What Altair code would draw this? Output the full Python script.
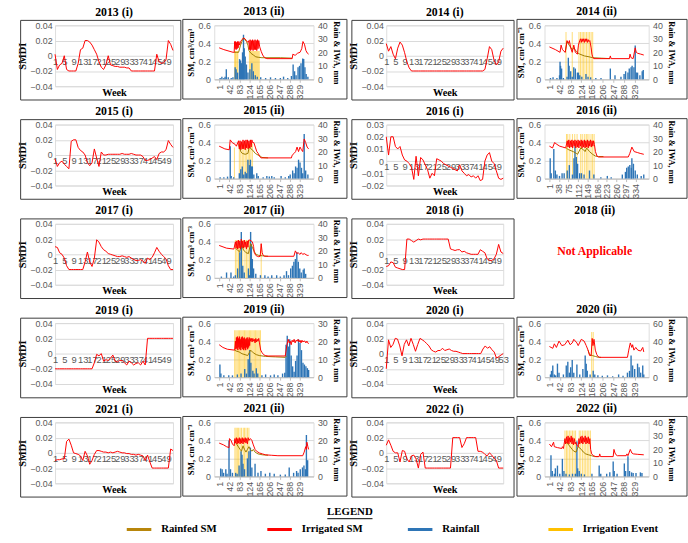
import altair as alt
import pandas as pd

SERIF = "Liberation Serif"
SANS = "Liberation Sans"
GRID = "#D9D9D9"
LABEL = "#595959"
FRAME = "#3a3a3a"

# ---------------- weekly SMDI series (i) ----------------
SMDI_2013 = [0.002, -0.018, -0.012, -0.010, 0.000, -0.018, -0.020, -0.020, -0.020, -0.020,
             -0.010, 0.008, 0.010, 0.020, 0.020, 0.018, 0.014, 0.008, 0.002, -0.008,
             -0.015, -0.018, -0.012, 0.000, -0.012, -0.013, -0.014, -0.014, -0.015, -0.015,
             -0.015, -0.016, -0.016, -0.020, -0.020, -0.020, -0.020, -0.020, -0.020, -0.020,
             -0.020, -0.020, -0.020, -0.020, 0.002, -0.008, -0.010, -0.009, -0.005, 0.020,
             0.015, 0.007]
SMDI_2014 = [0.016, 0.006, 0.012, 0.002, -0.004, 0.010, 0.018, 0.014, 0.004, -0.008,
             -0.016, -0.020, -0.020, -0.020, -0.020, -0.020, -0.020, -0.020, -0.020, -0.020,
             -0.020, -0.020, -0.020, -0.020, -0.020, -0.020, -0.020, -0.020, -0.020, -0.020,
             -0.020, -0.020, -0.020, -0.020, -0.020, -0.020, -0.020, -0.020, -0.020, -0.020,
             -0.020, -0.020, -0.020, -0.018, -0.004, 0.012, 0.008, -0.006, -0.012, -0.008,
             0.006, 0.010]
SMDI_2015 = [-0.005, -0.015, -0.010, -0.008, -0.012, -0.015, -0.018, 0.018, 0.020, 0.020,
             0.010, 0.006, 0.004, 0.000, -0.010, -0.014, -0.010, 0.008, -0.004, -0.015,
             0.004, 0.000, 0.000, 0.001, 0.001, 0.001, 0.001, 0.001, 0.001, 0.002,
             0.001, 0.001, 0.001, 0.002, 0.001, 0.000, 0.000, 0.000, -0.002, -0.007,
             -0.007, -0.006, -0.004, -0.002, -0.006, 0.002, 0.004, 0.004, 0.007, 0.019,
             0.014, 0.010]
SMDI_2016 = [0.020, 0.005, 0.020, 0.020, 0.012, 0.010, 0.012, 0.005, 0.001, 0.000,
             -0.002, -0.005, -0.015, 0.004, -0.012, 0.003, 0.001, -0.003, -0.007, -0.014,
             -0.010, -0.012, 0.002, 0.001, 0.000, -0.002, -0.003, -0.004, -0.005, -0.006,
             -0.007, -0.008, -0.003, -0.008, -0.010, -0.012, -0.011, -0.013, -0.012, -0.014,
             -0.012, -0.016, -0.015, 0.000, 0.005, 0.007, 0.000, -0.002, -0.008, -0.014,
             -0.015, -0.014]
SMDI_2017 = [0.010, 0.009, 0.002, 0.000, -0.005, -0.015, -0.020, -0.020, -0.020, -0.020,
             -0.020, -0.020, -0.020, -0.010, 0.003, -0.010, -0.016, -0.005, 0.019, 0.016,
             0.010, 0.006, 0.004, 0.001, 0.000, -0.001, -0.002, -0.003, -0.003, -0.002,
             -0.003, -0.004, -0.003, -0.005, -0.007, -0.008, -0.008, -0.007, -0.009, -0.012,
             -0.005, -0.007, -0.004, 0.002, 0.009, 0.004, 0.000, -0.003, -0.006, -0.015,
             -0.020, -0.020]
SMDI_2018 = [-0.016, -0.015, -0.010, -0.011, -0.017, -0.018, -0.019, -0.020, -0.020, 0.020,
             0.020, 0.018, 0.016, 0.018, 0.020, 0.019, 0.020, 0.020, 0.020, 0.020,
             0.020, 0.020, 0.020, 0.020, 0.020, 0.020, 0.020, 0.020, 0.007, 0.006,
             0.005, 0.006, 0.006, 0.003, 0.004, 0.002, 0.001, 0.000, 0.000, 0.000,
             0.000, 0.006, 0.004, 0.002, -0.006, -0.008, -0.008, -0.006, 0.000, 0.013,
             0.003, 0.001]
SMDI_2019 = [-0.020, -0.020, -0.020, -0.020, -0.020, -0.020, -0.020, -0.020, -0.020, -0.020,
             -0.020, -0.020, -0.020, -0.020, -0.020, -0.020, -0.020, -0.012, -0.001, -0.003,
             0.000, -0.010, -0.008, -0.009, -0.006, -0.002, -0.010, -0.011, -0.009, -0.009,
             -0.012, -0.015, -0.010, -0.012, -0.015, -0.013, -0.012, -0.015, -0.010, -0.015,
             0.020, 0.020, 0.020, 0.020, 0.020, 0.020, 0.020, 0.020, 0.020, 0.020,
             0.020, 0.020]
SMDI_2020 = [-0.020, 0.018, 0.008, 0.012, 0.020, 0.019, 0.010, -0.003, 0.012, 0.018,
             0.010, 0.020, 0.012, 0.003, 0.012, 0.020, 0.018, 0.016, 0.013, 0.010,
             0.005, 0.003, 0.002, 0.004, 0.004, 0.007, 0.004, 0.005, 0.006, 0.004,
             0.003, 0.003, 0.002, 0.001, 0.000, 0.000, 0.000, 0.000, 0.000, 0.000,
             0.000, 0.000, 0.000, 0.006, 0.010, 0.007, 0.009, 0.005, 0.002, -0.006,
             -0.004, -0.002, 0.000]
SMDI_2021 = [-0.010, -0.009, -0.009, -0.008, -0.008, 0.015, 0.018, 0.010, 0.000, -0.001,
             -0.002, -0.004, -0.010, 0.002, -0.004, -0.015, -0.010, -0.002, 0.003, 0.003,
             0.002, 0.001, 0.001, 0.000, 0.001, 0.000, 0.001, 0.002, 0.001, 0.000,
             0.000, -0.001, -0.001, -0.002, -0.002, -0.003, -0.002, -0.003, -0.004, -0.010,
             -0.003, -0.012, -0.020, -0.020, -0.020, -0.020, -0.020, -0.020, -0.020, -0.020,
             0.005, 0.003]
SMDI_2022 = [0.010, 0.017, 0.010, 0.002, 0.000, 0.000, -0.012, 0.003, 0.002, -0.008,
             -0.012, -0.004, -0.003, -0.008, -0.020, -0.002, 0.001, -0.020, -0.020, -0.020,
             -0.020, -0.020, -0.020, -0.020, -0.020, -0.020, -0.020, -0.020, -0.020, 0.020,
             0.020, 0.020, 0.020, 0.007, 0.012, 0.020, 0.020, 0.020, 0.020, 0.020,
             0.002, 0.002, 0.001, -0.002, -0.004, 0.000, -0.003, -0.007, -0.010, -0.020,
             -0.020, -0.020]

SMDI_TICKS = [-0.04, -0.02, 0, 0.02, 0.04]
SMDI_TICKS_2016 = [-0.02, -0.01, 0, 0.01, 0.02, 0.03]

# ---------------- daily soil moisture, rainfall and irrigation (ii) ----------------
DAY_TICKS = [1, 42, 83, 124, 165, 206, 247, 288, 329]
DAY_TICKS_2016 = [1, 38, 75, 112, 149, 186, 223, 260, 297, 334]
SM_TICKS = [0, 0.2, 0.4, 0.6]

RED_2013 = [(1, .35), (20, .33), (45, .31), (58, .30), (62, .30), (64, .42), (66, .34), (68, .42), (70, .33),
            (72, .41), (74, .34), (76, .42), (78, .35), (81, .42), (84, .38), (88, .42), (94, .44), (100, .46),
            (106, .45), (112, .43), (118, .41), (122, .43), (124, .33), (127, .44), (129, .32), (132, .43),
            (134, .33), (137, .44), (139, .32), (142, .43), (144, .33), (147, .44), (149, .33), (152, .43),
            (154, .32), (157, .44), (159, .34), (162, .43), (166, .36), (172, .31), (178, .27), (186, .24),
            (195, .23), (298, .23), (301, .28), (306, .27), (312, .27), (320, .29), (330, .30), (337, .34),
            (342, .42), (348, .39), (354, .32), (360, .29), (365, .28)]
RAINFED_2013 = [(62, .30), (70, .30), (80, .30), (88, .38), (95, .43), (100, .46), (106, .44), (112, .42),
                (118, .38), (122, .32), (130, .29), (140, .27), (150, .25), (160, .245), (175, .24),
                (250, .24), (298, .235)]
RAIN_2013 = [(5, 1), (12, 2), (20, 1), (25, 2), (30, 7.5), (38, 1.5), (50, 1), (57, 1.5), (66, 9), (70, 7.5),
             (76, 5), (84, 15), (88, 14), (92, 12), (96, 20), (100, 33), (103, 23), (107, 17), (112, 11),
             (118, 5), (126, 7.5), (134, 12), (140, 6), (148, 3), (156, 2), (170, 1.5), (190, 1), (210, 1.5),
             (230, 1), (250, 1), (263, 2), (280, 1), (295, 2.5), (302, 11), (308, 6), (314, 3), (322, 9),
             (328, 10), (334, 12), (341, 15.5), (345, 15), (350, 9), (355, 4), (362, 2)]
IRR_2013 = [(64, 21), (67, 21), (70, 21), (74, 21), (77, 21), (124, 21), (128, 21), (132, 21), (136, 21),
            (140, 21), (144, 21), (148, 21), (152, 21), (156, 21), (160, 21), (164, 21)]

RED_2014 = [(1, .36), (24, .33), (42, .30), (46, .38), (51, .33), (62, .30), (69, .43), (75, .40), (78, .43),
            (83, .35), (89, .30), (95, .38), (101, .30), (109, .28), (113, .38), (118, .43), (121, .45),
            (124, .41), (127, .45), (130, .42), (133, .45), (136, .41), (139, .45), (142, .42), (145, .45),
            (148, .41), (151, .44), (154, .42), (157, .43), (162, .35), (165, .28), (168, .25), (172, .23),
            (233, .23), (236, .26), (239, .23), (309, .23), (312, .28), (316, .24), (324, .23), (332, .35),
            (336, .30), (341, .29), (353, .28), (365, .27)]
RAINFED_2014 = [(62, .30), (69, .42), (77, .38), (89, .33), (95, .35), (107, .30), (118, .28), (136, .26),
                (154, .25), (168, .24), (201, .235), (236, .23)]
RAIN_2014 = [(5, 1), (15, 1.5), (30, 1), (40, 3), (42, 13), (44, 10), (48, 8), (55, 1), (69, 2), (74, 16),
             (77, 10), (83, 6), (89, 2), (95, 9), (101, 8), (109, 5), (113, 5), (118, 3), (126, 2), (142, 4),
             (150, 2), (160, 1.5), (180, 1), (200, 1), (236, 8), (254, 3), (277, 2), (289, 4), (295, 6),
             (304, 5), (309, 8), (316, 9), (320, 10), (327, 9), (332, 25), (336, 5), (341, 5), (350, 3),
             (359, 6), (363, 7)]
IRR_2014 = [(65, 35), (89, 35), (115, 35), (121, 35), (127, 35), (132, 35), (138, 35), (144, 35), (150, 35),
            (156, 35), (162, 35), (168, 35)]

RED_2015 = [(1, .36), (24, .33), (42, .32), (46, .43), (54, .40), (66, .38), (71, .36), (80, .42), (83, .33),
            (86, .42), (89, .32), (92, .41), (95, .33), (98, .43), (101, .33), (104, .42), (107, .32),
            (110, .43), (113, .34), (116, .43), (119, .33), (122, .42), (125, .34), (128, .43), (131, .35),
            (134, .43), (137, .40), (142, .40), (148, .35), (154, .30), (160, .28), (165, .25), (171, .23),
            (295, .23), (298, .26), (306, .28), (312, .30), (318, .35), (324, .30), (330, .35), (336, .32),
            (341, .30), (347, .44), (353, .40), (359, .35), (365, .33)]
RAINFED_2015 = [(80, .38), (83, .35), (89, .30), (95, .28), (107, .27), (118, .28), (124, .36), (130, .33),
                (136, .32), (148, .28), (160, .26), (168, .25), (175, .235), (200, .23)]
RAIN_2015 = [(5, 1), (20, 1), (35, 1.5), (46, 24), (50, 2), (60, 1), (83, 4), (89, 7), (95, 9), (101, 3),
             (107, 5), (113, 4), (118, 14), (124, 10), (128, 14), (133, 9), (136, 9), (142, 3), (154, 4),
             (160, 2), (180, 1), (195, 2), (205, 1.5), (215, 2), (225, 1), (253, 2), (270, 1), (284, 2),
             (290, 3), (300, 6), (306, 4), (312, 9), (318, 8), (324, 14), (330, 12), (336, 8), (341, 4),
             (347, 33), (353, 6), (362, 3)]
IRR_2015 = [(63, 23), (83, 26), (89, 26), (95, 26), (101, 26), (107, 26), (113, 26), (119, 26), (124, 26),
            (130, 26), (136, 26)]

RED_2016 = [(1, .36), (13, .34), (21, .40), (30, .38), (41, .36), (53, .35), (64, .34), (70, .42), (73, .35),
            (76, .43), (79, .34), (82, .42), (85, .35), (88, .43), (91, .34), (94, .42), (97, .36), (100, .43),
            (103, .34), (106, .42), (109, .35), (112, .43), (115, .34), (118, .42), (121, .36), (124, .43),
            (127, .34), (130, .42), (133, .35), (136, .43), (139, .34), (142, .42), (145, .35), (148, .43),
            (151, .34), (154, .42), (157, .36), (160, .43), (163, .35), (166, .42), (169, .36), (172, .42),
            (175, .38), (179, .30), (185, .25), (191, .24), (306, .24), (312, .28), (320, .35), (329, .30),
            (341, .29), (352, .28), (366, .27)]
RAINFED_2016 = [(66, .34), (70, .33), (76, .32), (93, .30), (105, .28), (110, .27), (122, .34), (133, .32),
                (139, .30), (145, .34), (156, .30), (168, .27), (179, .25), (191, .245), (210, .245)]
RAIN_2016 = [(4, 15), (8, 4), (18, 22), (24, 6), (30, 3), (40, 2), (50, 4), (58, 4), (70, 6), (78, 10),
             (90, 3), (96, 15), (100, 24), (105, 16), (110, 11), (118, 4), (125, 4), (135, 3), (156, 6),
             (173, 3), (200, 1), (225, 2), (240, 1), (283, 3), (295, 5), (300, 8), (306, 9), (312, 10),
             (318, 8), (320, 15), (326, 11), (333, 6), (341, 3), (356, 2), (366, 3)]
IRR_2016 = [(67, 33), (72, 33), (80, 33), (90, 33), (99, 33), (108, 33), (122, 33), (128, 33), (136, 33),
            (143, 33), (147, 33), (154, 33), (162, 33), (168, 33), (174, 33)]

RED_2017 = [(1, .36), (31, .33), (61, .32), (67, .40), (70, .33), (73, .41), (76, .32), (79, .42), (82, .33),
            (85, .41), (88, .32), (91, .43), (94, .34), (97, .41), (100, .33), (103, .42), (106, .34),
            (109, .40), (112, .32), (115, .41), (118, .34), (121, .42), (126, .42), (136, .40), (141, .35),
            (144, .28), (150, .25), (156, .24), (162, .235), (168, .24), (172, .38), (176, .28), (180, .25),
            (186, .24), (305, .24), (311, .30), (317, .27), (323, .28), (329, .26), (335, .28), (341, .26),
            (347, .27), (359, .25), (365, .25)]
RAINFED_2017 = [(67, .33), (75, .31), (84, .29), (92, .36), (100, .31), (110, .28), (120, .27), (129, .38),
                (136, .34), (144, .29), (152, .26), (162, .25), (178, .245), (200, .24)]
RAIN_2017 = [(10, 1), (31, 4), (49, 4), (60, 1), (67, 2), (76, 7), (85, 19), (91, 34), (97, 9), (103, 4),
             (120, 7), (124, 2), (129, 34), (132, 25), (136, 14), (141, 7), (150, 3), (169, 2), (187, 2),
             (200, 1), (215, 2), (235, 2), (250, 1), (265, 2), (275, 5), (283, 2), (292, 7), (299, 9),
             (305, 12), (311, 14), (317, 19), (323, 12), (329, 7), (335, 4), (343, 6), (347, 7), (353, 3)]
IRR_2017 = [(67, 28), (73, 28), (79, 28), (82, 28), (91, 28), (97, 28), (106, 28), (112, 28), (118, 28),
            (124, 28), (172, 25)]

RED_2019 = [(1, .36), (16, .33), (34, .31), (64, .30), (67, .40), (69, .31), (71, .44), (73, .32), (75, .45),
            (77, .30), (79, .43), (81, .33), (83, .45), (85, .31), (87, .42), (89, .30), (91, .44), (93, .33),
            (95, .45), (97, .31), (99, .43), (101, .30), (103, .44), (105, .32), (107, .42), (109, .30),
            (111, .43), (113, .33), (115, .44), (117, .31), (119, .42), (121, .33), (123, .44), (125, .35),
            (127, .43), (129, .40), (132, .43), (135, .39), (138, .43), (141, .40), (144, .42), (147, .38),
            (150, .43), (153, .39), (156, .42), (159, .40), (162, .43), (165, .38), (170, .30), (176, .27),
            (182, .25), (188, .24), (200, .235), (270, .235), (276, .35), (282, .42), (286, .38), (290, .40),
            (294, .36), (298, .41), (302, .39), (306, .42), (310, .38), (314, .41), (318, .40), (322, .42),
            (326, .39), (330, .41), (334, .38), (338, .41), (342, .39), (346, .40), (350, .40), (354, .38),
            (358, .40), (362, .38), (365, .37)]
RAINFED_2019 = [(64, .30), (70, .29), (82, .28), (94, .26), (106, .25), (117, .24), (129, .30), (140, .27),
                (152, .25), (164, .24), (190, .23), (230, .225), (270, .22), (275, .235)]
RAIN_2019 = [(4, 7), (8, 2), (20, 1), (40, 1), (55, 1), (75, 1.5), (90, 2), (105, 4.5), (112, 2), (119, 10),
             (125, 15), (130, 8), (138, 3.6), (143, 2), (152, 5), (158, 2), (175, 1), (190, 1.5), (210, 1),
             (225, 1.5), (240, 1), (259, 2), (268, 2.5), (273, 18), (278, 23), (283, 17), (288, 21),
             (294, 12), (300, 6), (306, 3), (312, 9), (318, 12), (324, 21), (330, 19), (336, 15), (342, 8),
             (348, 7), (354, 6), (360, 5), (365, 4)]
IRR_2019 = [(64, 26), (69, 26), (74, 26), (79, 26), (84, 26), (89, 26), (94, 26), (99, 26), (104, 26),
            (109, 26), (114, 26), (119, 26), (124, 26), (129, 26), (134, 26), (139, 26), (144, 26), (149, 26),
            (154, 26), (159, 26), (164, 26), (169, 26)]

RED_2020 = [(1, .34), (14, .32), (20, .37), (28, .33), (38, .40), (49, .35), (60, .36), (72, .41), (81, .36),
            (89, .38), (95, .42), (107, .38), (112, .35), (124, .42), (135, .40), (143, .35), (150, .30),
            (156, .24), (162, .24), (166, .43), (169, .35), (173, .42), (178, .30), (184, .25), (188, .23),
            (195, .22), (302, .22), (307, .30), (313, .38), (319, .33), (322, .36), (327, .30), (334, .33),
            (342, .30), (353, .29), (361, .33), (365, .28)]
RAINFED_2020 = [(150, .30), (156, .25), (166, .24), (178, .23), (190, .22), (200, .22)]
RAIN_2020 = [(5, 3), (9, 7), (14, 13), (20, 3), (25, 2), (32, 15), (38, 5), (55, 3), (66, 13), (72, 17),
             (78, 5), (83, 11), (89, 19), (95, 5), (107, 14), (118, 3), (130, 9), (139, 24), (143, 15),
             (147, 7), (158, 3), (170, 7), (176, 3), (188, 2), (205, 1.5), (225, 2), (245, 1), (268, 3),
             (285, 1.5), (302, 5), (310, 7), (316, 24), (322, 13), (330, 9), (341, 15), (347, 11), (353, 5),
             (361, 13), (365, 3)]
IRR_2020 = [(164, 50), (170, 50)]

RED_2021 = [(1, .37), (19, .35), (31, .33), (41, .32), (43, .42), (49, .40), (55, .36), (62, .34), (65, .42),
            (68, .37), (71, .43), (74, .36), (77, .42), (80, .37), (83, .43), (86, .36), (89, .42), (92, .37),
            (95, .43), (98, .36), (101, .42), (104, .38), (107, .43), (110, .37), (113, .42), (116, .36),
            (119, .43), (122, .40), (128, .42), (134, .40), (140, .35), (147, .30), (153, .28), (165, .26),
            (177, .25), (189, .24), (213, .235), (240, .23), (341, .23), (347, .27), (353, .33), (356, .30),
            (358, .38), (362, .33), (365, .30)]
RAINFED_2021 = [(65, .40), (68, .38), (74, .35), (86, .30), (92, .28), (98, .34), (104, .30), (110, .27),
                (116, .30), (122, .33), (128, .30), (134, .28), (140, .30), (147, .27), (159, .25), (177, .24),
                (200, .235)]
RAIN_2021 = [(7, 4.4), (13, 4), (19, 2), (28, 4), (33, 1.5), (41, 20), (47, 4), (55, 2), (68, 2), (74, 1.5),
             (82, 6), (90, 14), (94, 12), (98, 7), (104, 4), (116, 10), (122, 14), (128, 16), (134, 5),
             (147, 7), (159, 2), (171, 3), (189, 1.5), (207, 2), (225, 1.5), (250, 1), (270, 1), (286, 5),
             (304, 2), (316, 3), (322, 2), (331, 4), (340, 5), (346, 6), (352, 4), (356, 23), (361, 9)]
IRR_2021 = [(65, 27), (70, 27), (75, 27), (80, 27), (86, 27), (92, 27), (99, 27), (104, 27), (110, 27),
            (116, 27), (122, 27)]

RED_2022 = [(1, .36), (9, .33), (17, .38), (20, .33), (32, .32), (49, .31), (51, .33), (55, .31), (61, .42),
            (64, .36), (67, .44), (70, .37), (73, .45), (76, .36), (79, .43), (82, .38), (85, .45), (88, .36),
            (91, .43), (94, .35), (97, .42), (100, .36), (103, .38), (106, .35), (109, .34), (112, .33),
            (115, .42), (118, .36), (121, .44), (124, .37), (127, .45), (130, .36), (133, .43), (136, .38),
            (139, .45), (142, .36), (145, .43), (148, .37), (151, .44), (154, .36), (157, .42), (160, .30),
            (164, .25), (171, .23), (180, .22), (193, .22), (195, .25), (198, .22), (247, .22), (250, .30),
            (254, .26), (258, .24), (263, .23), (297, .23), (300, .25), (304, .23), (313, .30), (319, .26),
            (325, .25), (342, .245), (365, .24)]
RAINFED_2022 = [(61, .36), (67, .38), (78, .34), (89, .30), (95, .28), (104, .27), (112, .33), (124, .30),
                (132, .27), (141, .25), (152, .24), (164, .23), (175, .22), (190, .22)]
RAIN_2022 = [(7, 15.6), (12, 4), (20, 2), (24, 6), (32, 8), (41, 2), (51, 13), (57, 4), (65, 2), (78, 1.5),
             (90, 2), (101, 2), (107, 26), (110, 6), (116, 4), (124, 2), (136, 1.5), (165, 2), (193, 8),
             (199, 2), (222, 2), (234, 3), (247, 11), (251, 4), (262, 2), (290, 9.6), (295, 4), (304, 15),
             (310, 4), (318, 3), (324, 2.5), (335, 2.5), (352, 3), (358, 2.5)]
IRR_2022 = [(61, 34), (67, 34), (72, 34), (78, 34), (84, 34), (90, 34), (96, 34), (102, 34), (116, 34),
            (122, 34), (129, 34), (135, 34), (141, 34), (147, 34), (153, 34), (159, 34)]

LEGEND_ITEMS = ["Rainfed SM", "Irrigated SM", "Rainfall", "Irrigation Event"]
LEGEND_COLORS = ["#B8860B", "#FF0000", "#2E75B6", "#FFC000"]

# ---------------- layout ----------------
H_I = 62          # SMDI plot height
H_II = 55         # SM plot height
COL = {           # (left margin, plot width, right margin) inside each framed panel
    1: (35, 120, 8),
    2: (32, 101, 34),
    3: (35, 119, 11),
    4: (28, 106, 39),
}


def panel_title(text):
    return alt.TitleParams(text=text, font=SERIF, fontSize=12, fontWeight="bold",
                           anchor="middle", offset=1, color="black")


def frame(x0, x1, y0, y1, visible=True):
    return alt.Chart(alt.Data(values=[{"k": 0}])).mark_rect(
        fillOpacity=0, stroke=FRAME, strokeWidth=1, strokeOpacity=1 if visible else 0
    ).encode(x=alt.value(x0), x2=alt.value(x1), y=alt.value(y0), y2=alt.value(y1))


def smdi_panel(title, values, ticks, col):
    left, width, right = COL[col]
    n = len(values)
    df = pd.DataFrame({"week": list(range(1, n + 1)), "smdi": values})
    lo, hi = ticks[0], ticks[-1]
    zero_y = H_I * hi / (hi - lo)
    x = alt.X("week:Q", scale=alt.Scale(domain=[1, n], nice=False, zero=False),
              axis=alt.Axis(values=list(range(1, n + 1, 4)), title="Week", grid=False, domain=False,
                            ticks=False, labelOverlap=False, labelFlush=False,
                            labelPadding=zero_y - H_I + 1, labelFont=SANS, labelFontSize=9.5,
                            labelColor=LABEL, titleFont=SERIF, titleFontSize=10.5,
                            titleFontWeight="bold", titleColor="black", titleY=1,
                            titleBaseline="top"))
    y = alt.Y("smdi:Q", scale=alt.Scale(domain=[lo, hi], nice=False, zero=False),
              axis=alt.Axis(values=ticks, title="SMDI", grid=True, gridColor=GRID, domain=False,
                            ticks=False, labelExpr="datum.value == 0 ? '0' : format(datum.value, '.2f')",
                            labelFont=SANS, labelFontSize=9, labelColor=LABEL, labelPadding=3,
                            titleFont=SERIF, titleFontSize=10.5, titleFontWeight="bold",
                            titleColor="black", titlePadding=2))
    line = alt.Chart(df).mark_line(color="#FF0000", strokeWidth=1).encode(x=x, y=y)
    return alt.layer(frame(-left, width + right, -5, H_I + 14), line).properties(
        width=width, height=H_I, title=panel_title(title))


def to_df(points, cols):
    return pd.DataFrame(points, columns=cols)


def sm_panel(title, red, rainfed, rain, irr, rmax, rticks, col,
             dticks=DAY_TICKS, dmax=365, sm_title="SM, cm³ cm⁻³"):
    left, width, right = COL[col]
    x = alt.X("day:Q", scale=alt.Scale(domain=[1, dmax], nice=False, zero=False),
              axis=alt.Axis(values=dticks, labelAngle=-90, title=None, grid=False, labelOverlap=False,
                            labelFlush=False, domainColor="#BFBFBF", tickColor="#BFBFBF", tickSize=3,
                            labelFont=SANS, labelFontSize=9, labelColor=LABEL, labelPadding=2))
    y_mm = alt.Y("mm:Q", scale=alt.Scale(domain=[0, rmax], nice=False, zero=True),
                 axis=alt.Axis(orient="right", values=rticks, title="Rain & IWA, mm", grid=False,
                               domain=False, ticks=False, labelFont=SANS, labelFontSize=9,
                               labelColor=LABEL, labelPadding=4, titleFont=SERIF, titleFontSize=8.5,
                               titleFontWeight="bold", titleColor="black", titlePadding=4))
    y_sm = alt.Y("sm:Q", scale=alt.Scale(domain=[0, 0.6], nice=False, zero=True),
                 axis=alt.Axis(orient="left", values=SM_TICKS, title=sm_title, grid=True, gridColor=GRID,
                               domain=False, ticks=False,
                               labelExpr="datum.value == 0 ? '0' : format(datum.value, '.1f')",
                               labelFont=SANS, labelFontSize=9, labelColor=LABEL, labelPadding=4,
                               titleFont=SERIF, titleFontSize=9, titleFontWeight="bold",
                               titleColor="black", titlePadding=3))
    bars = alt.layer(
        frame(-left, width + right, -6, H_II + 20),
        alt.Chart(to_df(irr, ["day", "mm"])).mark_bar(
            width=1.0, color="#FFC000", opacity=0.55).encode(x=x, y=y_mm),
        alt.Chart(to_df(rain, ["day", "mm"])).mark_bar(
            width=1.4, color="#2E75B6").encode(x=x, y=y_mm),
    )
    lines = alt.layer(
        alt.Chart(to_df(rainfed, ["day", "sm"])).mark_line(
            color="#9C7A00", strokeWidth=1).encode(x=x, y=y_sm),
        alt.Chart(to_df(red, ["day", "sm"])).mark_line(
            color="#FF0000", strokeWidth=1).encode(x=x, y=y_sm),
    )
    return alt.layer(bars, lines).resolve_scale(y="independent").properties(
        width=width, height=H_II, title=panel_title(title))


def not_applicable_panel(title, col):
    left, width, right = COL[col]
    msg = alt.Chart(alt.Data(values=[{"t": "Not Applicable"}])).mark_text(
        color="#FF0000", font=SERIF, fontSize=12, fontWeight="bold"
    ).encode(text="t:N", x=alt.value(width / 2), y=alt.value(H_II / 2))
    return alt.layer(frame(-left, width + right, -6, H_II + 20, visible=False), msg).properties(
        width=width, height=H_II, title=panel_title(title),
        view=alt.ViewBackground(strokeOpacity=0))


def legend_chart():
    df = pd.DataFrame({"item": LEGEND_ITEMS, "pos": list(range(len(LEGEND_ITEMS))),
                       "color": LEGEND_COLORS})
    xs = alt.X("pos:Q", scale=alt.Scale(domain=[-0.755, 3.245], nice=False, zero=False), axis=None)
    base = alt.Chart(df)
    swatches = base.mark_rule(strokeWidth=3, xOffset=-35, x2Offset=-10).encode(
        x=xs, x2="pos:Q", y=alt.value(29), color=alt.Color("color:N", scale=None))
    labels = base.mark_text(align="left", baseline="middle", font=SERIF, fontSize=11,
                            fontWeight="bold", color="black").encode(x=xs, y=alt.value(29), text="item:N")
    heading = alt.Chart(alt.Data(values=[{"t": "LEGEND"}])).mark_text(
        font=SERIF, fontSize=11, fontWeight="bold", color="black", baseline="middle"
    ).encode(x=alt.value(300), y=alt.value(11), text="t:N")
    underline = alt.Chart(alt.Data(values=[{"k": 0}])).mark_rule(color="black", strokeWidth=1).encode(
        x=alt.value(277), x2=alt.value(323), y=alt.value(18))
    return alt.layer(heading, underline, swatches, labels).properties(
        width=572, height=38, view=alt.ViewBackground(strokeOpacity=0))


row1 = alt.hconcat(
    smdi_panel("2013 (i)", SMDI_2013, SMDI_TICKS, 1),
    sm_panel("2013 (ii)", RED_2013, RAINFED_2013, RAIN_2013, IRR_2013, 40, [0, 10, 20, 30, 40], 2,
             sm_title="SM, cm³/cm³"),
    smdi_panel("2014 (i)", SMDI_2014, SMDI_TICKS, 3),
    sm_panel("2014 (ii)", RED_2014, RAINFED_2014, RAIN_2014, IRR_2014, 40, [0, 10, 20, 30, 40], 4),
    spacing=0)
row2 = alt.hconcat(
    smdi_panel("2015 (i)", SMDI_2015, SMDI_TICKS, 1),
    sm_panel("2015 (ii)", RED_2015, RAINFED_2015, RAIN_2015, IRR_2015, 40, [0, 10, 20, 30, 40], 2),
    smdi_panel("2016 (i)", SMDI_2016, SMDI_TICKS_2016, 3),
    sm_panel("2016 (ii)", RED_2016, RAINFED_2016, RAIN_2016, IRR_2016, 40, [0, 10, 20, 30, 40], 4,
             dticks=DAY_TICKS_2016, dmax=366),
    spacing=0)
row3 = alt.hconcat(
    smdi_panel("2017 (i)", SMDI_2017, SMDI_TICKS, 1),
    sm_panel("2017 (ii)", RED_2017, RAINFED_2017, RAIN_2017, IRR_2017, 40, [0, 10, 20, 30, 40], 2),
    smdi_panel("2018 (i)", SMDI_2018, SMDI_TICKS, 3),
    not_applicable_panel("2018 (ii)", 4),
    spacing=0)
row4 = alt.hconcat(
    smdi_panel("2019 (i)", SMDI_2019, SMDI_TICKS, 1),
    sm_panel("2019 (ii)", RED_2019, RAINFED_2019, RAIN_2019, IRR_2019, 30, [0, 10, 20, 30], 2),
    smdi_panel("2020 (i)", SMDI_2020, SMDI_TICKS, 3),
    sm_panel("2020 (ii)", RED_2020, RAINFED_2020, RAIN_2020, IRR_2020, 60, [0, 20, 40, 60], 4),
    spacing=0)
row5 = alt.hconcat(
    smdi_panel("2021 (i)", SMDI_2021, SMDI_TICKS, 1),
    sm_panel("2021 (ii)", RED_2021, RAINFED_2021, RAIN_2021, IRR_2021, 30, [0, 10, 20, 30], 2),
    smdi_panel("2022 (i)", SMDI_2022, SMDI_TICKS, 3),
    sm_panel("2022 (ii)", RED_2022, RAINFED_2022, RAIN_2022, IRR_2022, 40, [0, 10, 20, 30, 40], 4),
    spacing=0)

chart = alt.vconcat(row1, row2, row3, row4, row5, legend_chart(), spacing=3).properties(
    padding={"left": 17, "top": 0, "right": 0, "bottom": 0}
).configure_view(stroke="#595959", strokeWidth=1).configure(background="white")

chart.save("out.html", embed_options={"renderer": "svg", "actions": False})
